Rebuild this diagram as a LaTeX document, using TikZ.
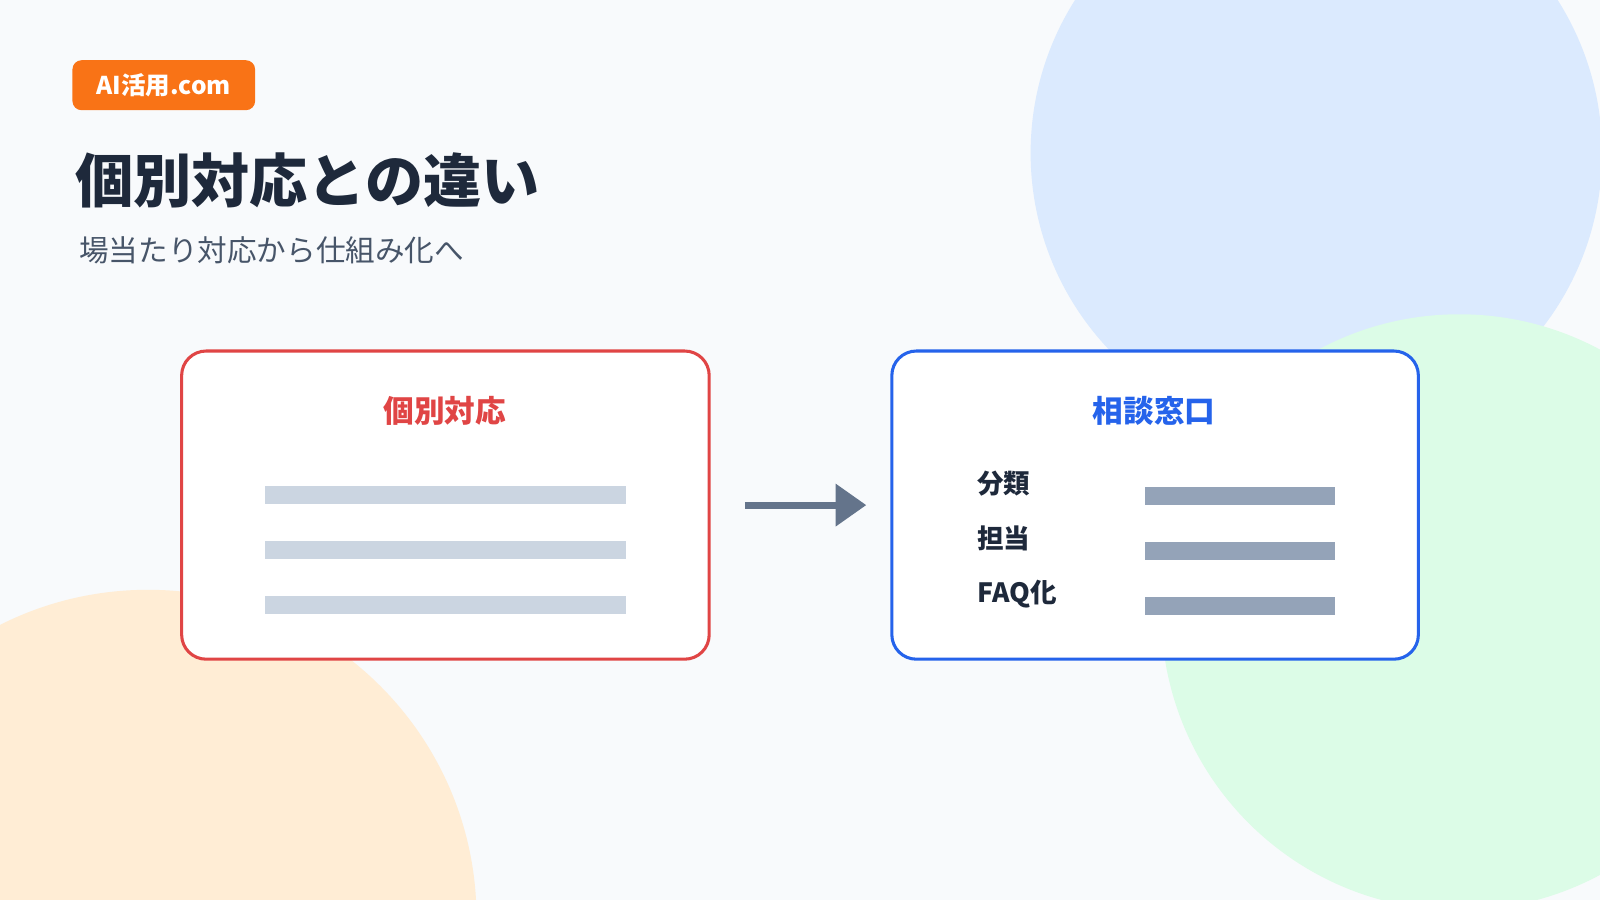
\documentclass[tikz,border=0pt]{standalone}
\usepackage{fontspec}
\setmainfont{Noto Sans CJK JP}
\usetikzlibrary{arrows.meta}
\definecolor{pagebg}{HTML}{F8FAFC}
\definecolor{blobblue}{HTML}{DBEAFE}
\definecolor{blobgreen}{HTML}{DCFCE7}
\definecolor{bloborange}{HTML}{FFEDD5}
\definecolor{badge}{HTML}{F97316}
\definecolor{ink}{HTML}{1E293B}
\definecolor{subink}{HTML}{475569}
\definecolor{redline}{HTML}{E04545}
\definecolor{blueline}{HTML}{2563EB}
\definecolor{barlight}{HTML}{CBD5E1}
\definecolor{bardark}{HTML}{94A3B8}
\definecolor{arrowgray}{HTML}{64748B}
\tikzset{every picture/.style={line width=0.75pt},
  card/.style={line width=3pt, fill=white, rounded corners=24pt},
  cardtitle/.style={font=\bfseries\fontsize{30}{36}\selectfont},
  steplabel/.style={anchor=west, text=ink, font=\bfseries\fontsize{26}{30}\selectfont}}
\begin{document}
\begin{tikzpicture}[x=1pt,y=1pt,yscale=-1]
	\useasboundingbox (0,0) rectangle (1568,882);
	\begin{scope}
	\clip (0,0) rectangle (1568,882);
	%background
	\fill [pagebg] (0,0) rectangle (1568,882);
	\fill [blobblue] (1290,150) circle (280);
	\fill [blobgreen] (1430,600) circle (292);
	\fill [bloborange] (145,900) circle (322);
	\end{scope}

	%badge and heading
	\node (badge) [fill=badge, rounded corners=9pt, text=white, font=\bfseries\fontsize{24}{28}\selectfont,
	  minimum width=179pt, minimum height=49pt] at (160.5,83.5) {AI活用.com};
	\node (title) [anchor=west, text=ink, font=\bfseries\fontsize{57}{64}\selectfont] at (70,177) {個別対応との違い};
	\node (subtitle) [anchor=west, text=subink, font=\fontsize{29}{34}\selectfont] at (74,245) {場当たり対応から仕組み化へ};

	%left card
	\draw [card, draw=redline] (178,344) rectangle (695,646);
	\node (leftname) [cardtitle, text=redline] at (436,403) {個別対応};
	\foreach \y in {476,530,584}
		\fill [barlight] (260,\y) rectangle (613,\y+18);

	%arrow
	\coordinate (arrowstart) at (730,495);
	\coordinate (arrowend) at (849,495);
	\draw [arrowgray, line width=7pt, -{Triangle[length=30pt,width=40pt]}] (arrowstart) -- (arrowend);

	%right card
	\draw [card, draw=blueline] (874,344) rectangle (1390,646);
	\node (rightname) [cardtitle, text=blueline] at (1131,403) {相談窓口};
	\node (sort) [steplabel] at (954,474) {分類};
	\node (owner) [steplabel] at (954,528) {担当};
	\node (faq) [steplabel] at (954,582) {FAQ化};
	\foreach \y in {477,531,585}
		\fill [bardark] (1122,\y) rectangle (1308,\y+18);
\end{tikzpicture}
\end{document}
